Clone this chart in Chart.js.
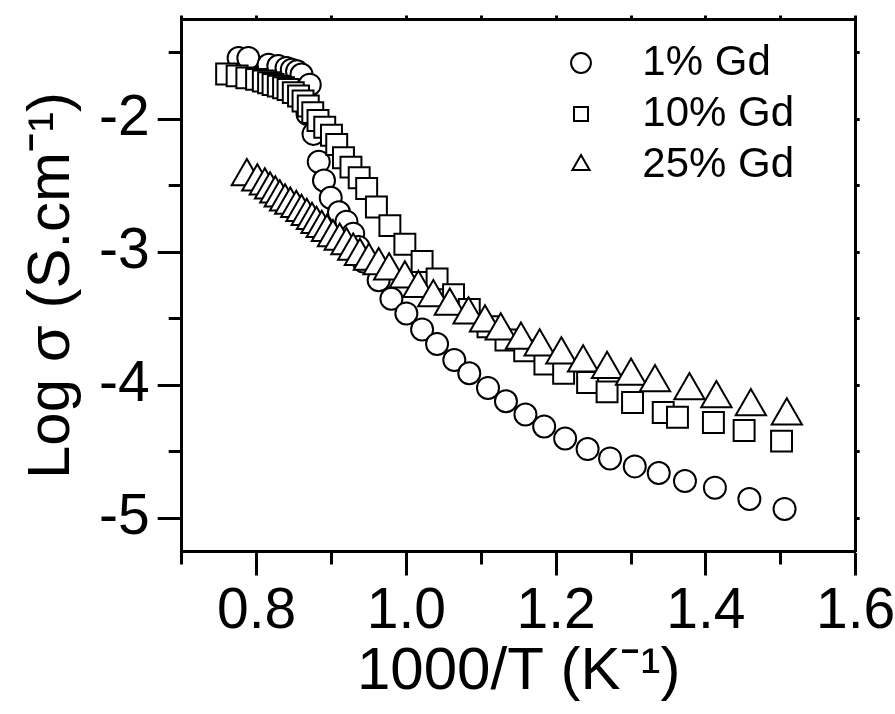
<!DOCTYPE html>
<html>
<head>
<meta charset="utf-8">
<script src="https://cdn.jsdelivr.net/npm/chart.js@4.4.1/dist/chart.umd.min.js"></script>
<style>
  html, body { margin: 0; padding: 0; background: #fff; }
  #wrap { width: 895px; height: 714px; position: relative; }
</style>
</head>
<body>
<div id="wrap"><canvas id="plot"></canvas></div>
<script>
// values: 1000/T (K^-1) vs log sigma
const gd1X = [0.776, 0.789, 0.816, 0.829, 0.840, 0.847, 0.854, 0.860, 0.871, 0.868, 0.876, 0.883, 0.890, 0.899, 0.910, 0.920, 0.929, 0.936, 0.943, 0.963, 0.980, 1.000, 1.021, 1.041, 1.064, 1.084, 1.109, 1.133, 1.159, 1.184, 1.212, 1.242, 1.272, 1.305, 1.337, 1.372, 1.412, 1.458, 1.505];
const gd1Y = [-1.54, -1.54, -1.59, -1.60, -1.614, -1.627, -1.64, -1.664, -1.74, -1.96, -2.11, -2.32, -2.46, -2.59, -2.70, -2.77, -2.86, -2.96, -3.07, -3.21, -3.35, -3.46, -3.58, -3.69, -3.81, -3.91, -4.02, -4.12, -4.22, -4.31, -4.40, -4.48, -4.55, -4.61, -4.66, -4.72, -4.77, -4.855, -4.93];

const gd10X = [0.760, 0.774, 0.787, 0.800, 0.809, 0.816, 0.822, 0.829, 0.836, 0.842, 0.849, 0.856, 0.862, 0.869, 0.875, 0.882, 0.891, 0.900, 0.907, 0.916, 0.926, 0.937, 0.947, 0.960, 0.978, 0.998, 1.021, 1.041, 1.063, 1.084, 1.109, 1.133, 1.158, 1.185, 1.210, 1.242, 1.268, 1.302, 1.343, 1.362, 1.410, 1.451, 1.501];
const gd10Y = [-1.66, -1.674, -1.689, -1.70, -1.713, -1.726, -1.739, -1.751, -1.763, -1.776, -1.80, -1.825, -1.863, -1.90, -1.95, -2.01, -2.06, -2.12, -2.19, -2.29, -2.36, -2.44, -2.52, -2.66, -2.80, -2.94, -3.07, -3.20, -3.32, -3.43, -3.56, -3.66, -3.74, -3.84, -3.91, -3.98, -4.05, -4.13, -4.205, -4.24, -4.28, -4.34, -4.42];

const gd25X = [0.787, 0.801, 0.811, 0.818, 0.825, 0.831, 0.838, 0.845, 0.853, 0.860, 0.867, 0.874, 0.880, 0.887, 0.894, 0.902, 0.911, 0.920, 0.929, 0.938, 0.950, 0.963, 0.977, 0.998, 1.016, 1.036, 1.058, 1.083, 1.105, 1.126, 1.153, 1.178, 1.207, 1.236, 1.268, 1.300, 1.332, 1.378, 1.414, 1.460, 1.508];
const gd25Y = [-2.43, -2.47, -2.50, -2.53, -2.56, -2.59, -2.62, -2.645, -2.67, -2.70, -2.73, -2.76, -2.79, -2.82, -2.85, -2.89, -2.915, -2.95, -2.99, -3.03, -3.065, -3.10, -3.14, -3.20, -3.27, -3.34, -3.405, -3.47, -3.53, -3.59, -3.66, -3.71, -3.77, -3.83, -3.88, -3.93, -3.98, -4.04, -4.10, -4.16, -4.23];

const seriesLabels = ["1% Gd", "10% Gd", "25% Gd"];
const xMajor = [0.8, 1.0, 1.2, 1.4, 1.6];
const xMinor = [0.7, 0.9, 1.1, 1.3, 1.5];
const yMajor = [-2, -3, -4, -5];
const yMinor = [-1.5, -2.5, -3.5, -4.5];

const font = "'Liberation Sans', Arial, sans-serif";

const toPoints = (xs, ys) => xs.map((x, i) => ({ x, y: ys[i] }));
const setTicks = (values) => (scale) => {
  scale.ticks = values.map((value) => ({ value }));
};
const fixSize = (w, h) => (scale) => {
  if (w !== null) scale.width = w;
  if (h !== null) scale.height = h;
  scale.paddingLeft = 0;
  scale.paddingRight = 0;
  scale.paddingTop = 0;
  scale.paddingBottom = 0;
};

const markerStyle = (style, radius, order) => ({
  pointStyle: style,
  pointRadius: radius,
  pointHoverRadius: radius,
  pointBorderWidth: 2,
  pointBorderColor: "#000",
  pointBackgroundColor: "#fff",
  borderColor: "#000",
  backgroundColor: "#fff",
  borderWidth: 2,
  order
});

// extra tick-only axes (minor ticks, frame on top/right)
const tickAxis = (position, values, len, weight) => ({
  type: "linear",
  position,
  weight,
  afterBuildTicks: setTicks(values),
  afterFit: position === "top" || position === "bottom" ? fixSize(null, 0) : fixSize(0, null),
  ticks: { display: false },
  grid: { drawOnChartArea: false, tickLength: len, tickWidth: 3, tickColor: "#000" },
  border: { display: position === "top" || position === "right", color: "#000", width: 3 }
});

const legendInside = {
  id: "legendInside",
  afterLayout(chart) {
    chart.legend.left = 555;
    chart.legend.top = 33;
  }
};

new Chart(document.getElementById("plot"), {
  type: "scatter",
  data: {
    datasets: [
      { label: seriesLabels[0], data: toPoints(gd1X, gd1Y), ...markerStyle("circle", 11, 3) },
      { label: seriesLabels[1], data: toPoints(gd10X, gd10Y), ...markerStyle("rect", 14.8, 2) },
      { label: seriesLabels[2], data: toPoints(gd25X, gd25Y), ...markerStyle("triangle", 17.5, 1) }
    ]
  },
  options: {
    responsive: true,
    maintainAspectRatio: false,
    animation: false,
    events: [],
    layout: { padding: { top: 16, right: 39.3, left: 0, bottom: 0 } },
    plugins: {
      tooltip: { enabled: false },
      legend: {
        position: "chartArea",
        align: "start",
        labels: {
          usePointStyle: true,
          boxHeight: 14,
          boxWidth: 34,
          padding: 9,
          color: "#000",
          font: { family: font, size: 42 },
          sort: (a, b) => a.datasetIndex - b.datasetIndex,
          generateLabels: (chart) =>
            Chart.defaults.plugins.legend.labels.generateLabels(chart).map((item) => ({ ...item, text: "  " + item.text }))
        }
      }
    },
    scales: {
      x: {
        type: "linear",
        position: "bottom",
        min: 0.7,
        max: 1.6,
        weight: 1,
        afterBuildTicks: setTicks(xMajor),
        afterFit: fixSize(null, 162.5),
        ticks: {
          callback: (v) => Number(v).toFixed(1),
          font: { family: font, size: 57, lineHeight: 1 },
          color: "#000",
          padding: 8,
          maxRotation: 0,
          autoSkip: false
        },
        grid: { drawOnChartArea: false, tickLength: 24, tickWidth: 3, tickColor: "#000" },
        border: { color: "#000", width: 3 },
        title: {
          display: true,
          text: "1000/T (K\u02C9\u00B9)",
          color: "#000",
          font: { family: font, size: 60, lineHeight: 1 },
          padding: { top: 0, bottom: 12 }
        }
      },
      xMinor: { ...tickAxis("bottom", xMinor, 13, 0), min: 0.7, max: 1.6 },
      x2: { ...tickAxis("top", xMajor.concat(xMinor), 4, 0), min: 0.7, max: 1.6 },
      y: {
        type: "linear",
        position: "left",
        min: -5.25,
        max: -1.25,
        weight: 1,
        afterBuildTicks: setTicks(yMajor),
        afterFit: fixSize(181.7, null),
        ticks: {
          callback: (v) => String(v),
          font: { family: font, size: 57, lineHeight: 1 },
          color: "#000",
          padding: 8
        },
        grid: { drawOnChartArea: false, tickLength: 24, tickWidth: 3, tickColor: "#000" },
        border: { color: "#000", width: 3 },
        title: {
          display: true,
          text: "Log \u03C3 (S.cm\u02C9\u00B9)",
          color: "#000",
          font: { family: font, size: 60, lineHeight: 1 },
          padding: { top: 22, bottom: 0 }
        }
      },
      yMinor: { ...tickAxis("left", yMinor, 13, 0), min: -5.25, max: -1.25 },
      y2: { ...tickAxis("right", yMajor.concat(yMinor), 4, 0), min: -5.25, max: -1.25 }
    }
  },
  plugins: [legendInside]
});
</script>
</body>
</html>
